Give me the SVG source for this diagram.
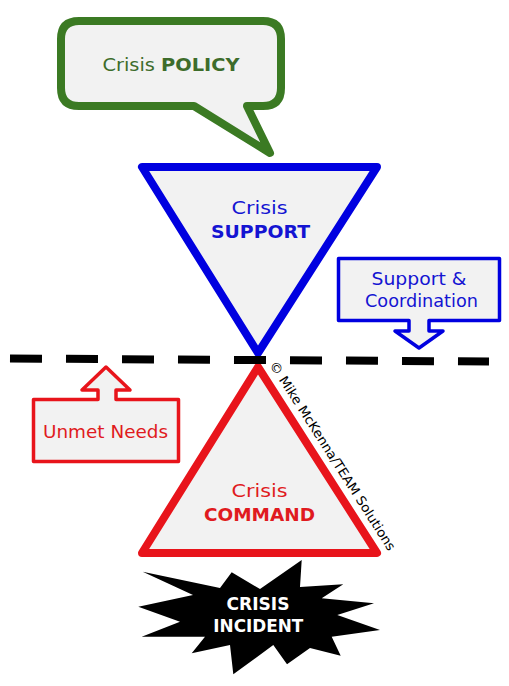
<svg xmlns="http://www.w3.org/2000/svg" width="509" height="686" viewBox="0 0 509 686">
<style>
text{font-family:"DejaVu Sans","Liberation Sans",sans-serif;text-anchor:middle}
.g{fill:#3d6c2b}
.b{fill:#1414d2}
.r{fill:#e01a20}
.w{fill:#ffffff;font-weight:bold}
.bold{font-weight:bold}
.shape{fill:#f2f2f2;stroke-linejoin:round}
</style>
<rect width="509" height="686" fill="#ffffff"/>
<g id="policy">
<path class="shape" d="M 79,21 H 263 Q 281,21 281,39 V 88 Q 281,106 263,106 H 247 L 270,153 L 194,106 H 79 Q 61,106 61,88 V 39 Q 61,21 79,21 Z" stroke="#3b7a23" stroke-width="8"/>
<text class="g" x="171" y="71" font-size="18" textLength="137" lengthAdjust="spacingAndGlyphs">Crisis <tspan class="bold">POLICY</tspan></text>
</g>
<g id="support">
<polygon class="shape" points="142,167 377,167 258,353" stroke="#0000e0" stroke-width="8"/>
<text class="b" x="259.5" y="214.3" font-size="18" textLength="56" lengthAdjust="spacingAndGlyphs">Crisis</text>
<text class="b bold" x="260.5" y="237.7" font-size="18" textLength="99" lengthAdjust="spacingAndGlyphs">SUPPORT</text>
</g>
<g id="command">
<polygon class="shape" points="258,367 377,553 142,553" stroke="#e8141b" stroke-width="8"/>
<text class="r" x="259.5" y="496.7" font-size="18" textLength="56" lengthAdjust="spacingAndGlyphs">Crisis</text>
<text class="r bold" x="259.5" y="520.7" font-size="18" textLength="111" lengthAdjust="spacingAndGlyphs">COMMAND</text>
</g>
<g id="coordination">
<path class="shape" d="M 338.5,258.5 H 499.5 V 320.5 H 429 V 331 H 443 L 419,348 L 395,331 H 409 V 320.5 H 338.5 Z" stroke="#0000e0" stroke-width="3.5"/>
<text class="b" x="419" y="285" font-size="17" textLength="95" lengthAdjust="spacingAndGlyphs">Support &amp;</text>
<text class="b" x="421.5" y="306.7" font-size="17" textLength="113" lengthAdjust="spacingAndGlyphs">Coordination</text>
</g>
<g id="unmet-needs">
<path class="shape" d="M 33.5,399.5 H 98 V 390 H 82 L 106,367 L 130,390 H 116 V 399.5 H 178.5 V 461.5 H 33.5 Z" stroke="#e8141b" stroke-width="3.5"/>
<text class="r" x="105.5" y="437.7" font-size="17" textLength="125" lengthAdjust="spacingAndGlyphs">Unmet Needs</text>
</g>
<g id="incident">
<polygon points="142.7,571.7 220,588 231.7,572.3 260,589 301.7,560 300,587 343.3,584.3 321.7,598.3 374,603.3 337.3,615 380,630 331.7,636.7 340.7,655.7 310,648 287,664.3 273.3,645 233.3,674.3 230,645 191.7,653.3 205,636.7 141.7,636.7 180,621.7 138.3,606.7 193,595" fill="#000000"/>
<text class="w" x="258" y="610" font-size="17" textLength="63" lengthAdjust="spacingAndGlyphs">CRISIS</text>
<text class="w" x="258.3" y="631.7" font-size="17" textLength="90" lengthAdjust="spacingAndGlyphs">INCIDENT</text>
</g>
<g id="connectors">
<line x1="10" y1="358.5" x2="489" y2="361.5" stroke="#000000" stroke-width="8" stroke-dasharray="32 24"/>
</g>
<g id="copyright">
<text x="0" y="0" font-size="13" fill="#000000" style="text-anchor:start" transform="translate(269,364.7) rotate(57.4)" textLength="222" lengthAdjust="spacingAndGlyphs">© Mike McKenna/TEAM Solutions</text>
</g>
</svg>
